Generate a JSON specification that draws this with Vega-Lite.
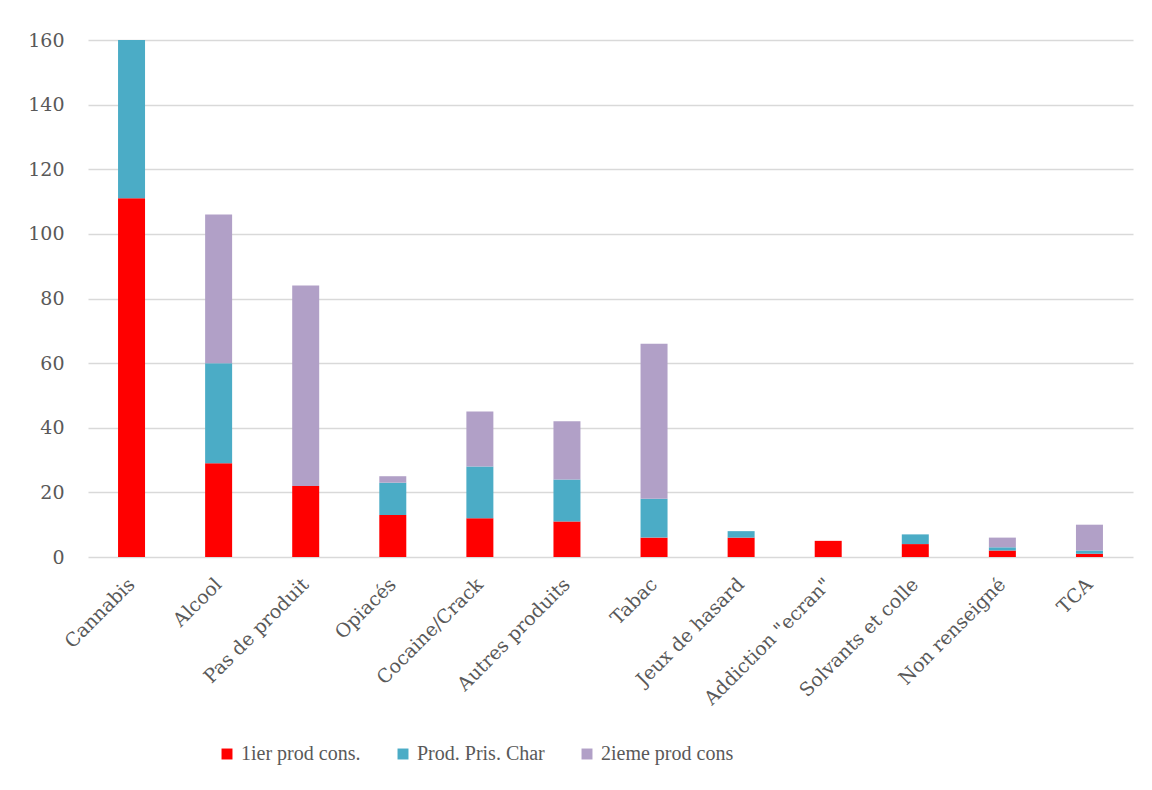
{
  "$schema": "https://vega.github.io/schema/vega-lite/v6.json",
  "width": 1045,
  "height": 517,
  "autosize": {"type": "none"},
  "padding": {"left": 88, "top": 40, "right": 19, "bottom": 233},
  "background": "white",
  "data": {
    "values": [
      {"cat": "Cannabis", "serie": "1ier prod cons.", "o": 1, "v": 111},
      {"cat": "Cannabis", "serie": "Prod. Pris. Char", "o": 2, "v": 49},
      {"cat": "Cannabis", "serie": "2ieme prod cons", "o": 3, "v": 0},
      {"cat": "Alcool", "serie": "1ier prod cons.", "o": 1, "v": 29},
      {"cat": "Alcool", "serie": "Prod. Pris. Char", "o": 2, "v": 31},
      {"cat": "Alcool", "serie": "2ieme prod cons", "o": 3, "v": 46},
      {"cat": "Pas de produit", "serie": "1ier prod cons.", "o": 1, "v": 22},
      {"cat": "Pas de produit", "serie": "Prod. Pris. Char", "o": 2, "v": 0},
      {"cat": "Pas de produit", "serie": "2ieme prod cons", "o": 3, "v": 62},
      {"cat": "Opiacés", "serie": "1ier prod cons.", "o": 1, "v": 13},
      {"cat": "Opiacés", "serie": "Prod. Pris. Char", "o": 2, "v": 10},
      {"cat": "Opiacés", "serie": "2ieme prod cons", "o": 3, "v": 2},
      {"cat": "Cocaine/Crack", "serie": "1ier prod cons.", "o": 1, "v": 12},
      {"cat": "Cocaine/Crack", "serie": "Prod. Pris. Char", "o": 2, "v": 16},
      {"cat": "Cocaine/Crack", "serie": "2ieme prod cons", "o": 3, "v": 17},
      {"cat": "Autres produits", "serie": "1ier prod cons.", "o": 1, "v": 11},
      {"cat": "Autres produits", "serie": "Prod. Pris. Char", "o": 2, "v": 13},
      {"cat": "Autres produits", "serie": "2ieme prod cons", "o": 3, "v": 18},
      {"cat": "Tabac", "serie": "1ier prod cons.", "o": 1, "v": 6},
      {"cat": "Tabac", "serie": "Prod. Pris. Char", "o": 2, "v": 12},
      {"cat": "Tabac", "serie": "2ieme prod cons", "o": 3, "v": 48},
      {"cat": "Jeux de hasard", "serie": "1ier prod cons.", "o": 1, "v": 6},
      {"cat": "Jeux de hasard", "serie": "Prod. Pris. Char", "o": 2, "v": 2},
      {"cat": "Jeux de hasard", "serie": "2ieme prod cons", "o": 3, "v": 0},
      {"cat": "Addiction \"ecran\"", "serie": "1ier prod cons.", "o": 1, "v": 5},
      {"cat": "Addiction \"ecran\"", "serie": "Prod. Pris. Char", "o": 2, "v": 0},
      {"cat": "Addiction \"ecran\"", "serie": "2ieme prod cons", "o": 3, "v": 0},
      {"cat": "Solvants et colle", "serie": "1ier prod cons.", "o": 1, "v": 4},
      {"cat": "Solvants et colle", "serie": "Prod. Pris. Char", "o": 2, "v": 3},
      {"cat": "Solvants et colle", "serie": "2ieme prod cons", "o": 3, "v": 0},
      {"cat": "Non renseigné", "serie": "1ier prod cons.", "o": 1, "v": 2},
      {"cat": "Non renseigné", "serie": "Prod. Pris. Char", "o": 2, "v": 1},
      {"cat": "Non renseigné", "serie": "2ieme prod cons", "o": 3, "v": 3},
      {"cat": "TCA", "serie": "1ier prod cons.", "o": 1, "v": 1},
      {"cat": "TCA", "serie": "Prod. Pris. Char", "o": 2, "v": 1},
      {"cat": "TCA", "serie": "2ieme prod cons", "o": 3, "v": 8}
    ]
  },
  "mark": {"type": "bar", "clip": true},
  "encoding": {
    "x": {
      "field": "cat", "type": "nominal", "sort": null,
      "scale": {"paddingInner": 0.69, "paddingOuter": 0.345},
      "axis": {
        "title": null, "labelAngle": -45, "labelAlign": "right", "labelBaseline": "middle",
        "labelPadding": 24, "ticks": false, "domain": false, "grid": false,
        "labelFont": "DejaVu Serif", "labelFontSize": 19, "labelColor": "#595959", "labelLimit": 300
      }
    },
    "y": {
      "field": "v", "type": "quantitative", "stack": "zero",
      "scale": {"domain": [0, 160], "nice": false},
      "axis": {
        "title": null, "values": [0, 20, 40, 60, 80, 100, 120, 140, 160],
        "ticks": false, "domain": false, "grid": true, "gridColor": "#d9d9d9", "gridWidth": 1.5,
        "labelPadding": 24, "labelFont": "DejaVu Serif", "labelFontSize": 19, "labelColor": "#595959"
      }
    },
    "color": {
      "field": "serie", "type": "nominal",
      "sort": ["1ier prod cons.", "Prod. Pris. Char", "2ieme prod cons"],
      "scale": {"domain": ["1ier prod cons.", "Prod. Pris. Char", "2ieme prod cons"], "range": ["#ff0000", "#4bacc6", "#b1a0c7"]},
      "legend": {
        "title": null, "orient": "none", "direction": "horizontal", "legendX": 129, "legendY": 704,
        "symbolType": "square", "symbolSize": 120, "symbolStrokeWidth": 0, "symbolOffset": 0,
        "labelFont": "Liberation Serif", "labelFontSize": 20, "labelColor": "#595959",
        "columnPadding": 32, "labelOffset": 4
      }
    },
    "order": {"field": "o", "type": "quantitative"}
  },
  "config": {"view": {"stroke": null}}
}
